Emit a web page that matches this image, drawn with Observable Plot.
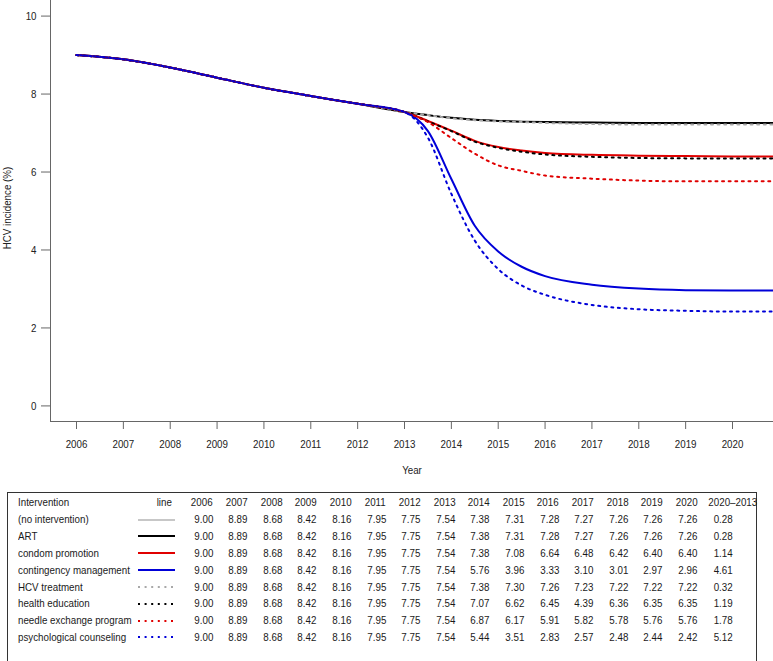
<!DOCTYPE html>
<html><head><meta charset="utf-8">
<script src="https://cdn.jsdelivr.net/npm/d3@7"></script>
<script src="https://cdn.jsdelivr.net/npm/@observablehq/plot@0.6"></script>
<style>
html,body{margin:0;padding:0;background:#fff;overflow:hidden;}
body{width:773px;height:661px;position:relative;font-family:"Liberation Sans",Arial,Helvetica,sans-serif;}
#chart svg{display:block;}
#box{position:absolute;left:7px;top:492px;width:750px;height:200px;border:1px solid #333;box-sizing:border-box;}
#box table{position:absolute;left:10px;top:1.3px;border-collapse:collapse;table-layout:fixed;font-size:11.5px;color:#1a1a1a;}
#box td{padding:0;height:16.85px;line-height:16.85px;white-space:nowrap;overflow:visible;}
#box td.num{text-align:right;}
#box td.last{text-align:center;}
#box td.sw svg{display:block;margin-left:2px;}
#box span.t{display:inline-block;transform:scaleX(0.85);transform-origin:left center;}
#box td.num span.t{transform-origin:right center;}
#box td.last span.t{transform-origin:center center;}
</style>
</head><body>
<div id="chart"></div>
<div id="box"></div>
<script>
// ---------- data ----------
const interventions = ["(no intervention)","ART","condom promotion","contingency management","HCV treatment","health education","needle exchange program","psychological counseling"];

const lineYears = [2006,2007,2008,2009,2010,2011,2012,2013,2013.5,2014,2014.5,2015,2015.5,2016,2017,2018,2019,2020,2021];
const lineNoIntervention = [9.00,8.89,8.68,8.42,8.16,7.95,7.75,7.54,7.46,7.39,7.34,7.31,7.29,7.28,7.27,7.26,7.26,7.26,7.26];
const lineART            = [9.00,8.89,8.68,8.42,8.16,7.95,7.75,7.54,7.46,7.39,7.34,7.31,7.29,7.28,7.27,7.26,7.26,7.26,7.26];
const lineCondom         = [9.00,8.89,8.68,8.42,8.16,7.95,7.75,7.54,7.31,7.06,6.80,6.64,6.55,6.49,6.44,6.42,6.41,6.40,6.40];
const lineContingency    = [9.00,8.89,8.68,8.42,8.16,7.95,7.75,7.54,7.05,5.82,4.62,3.96,3.57,3.33,3.11,3.01,2.97,2.96,2.96];
const lineHCVTreatment   = [9.00,8.89,8.68,8.42,8.16,7.95,7.75,7.54,7.46,7.38,7.33,7.30,7.28,7.26,7.23,7.22,7.22,7.22,7.22];
const lineHealthEdu      = [9.00,8.89,8.68,8.42,8.16,7.95,7.75,7.54,7.30,7.05,6.78,6.62,6.52,6.45,6.39,6.36,6.35,6.35,6.35];
const lineNeedle         = [9.00,8.89,8.68,8.42,8.16,7.95,7.75,7.54,7.28,6.87,6.47,6.17,6.03,5.91,5.83,5.78,5.76,5.76,5.76];
const linePsych          = [9.00,8.89,8.68,8.42,8.16,7.95,7.75,7.54,6.88,5.44,4.24,3.51,3.09,2.85,2.59,2.48,2.44,2.42,2.42];

// table values as printed
const tableYears = [2006,2007,2008,2009,2010,2011,2012,2013,2014,2015,2016,2017,2018,2019,2020];
const tblNoIntervention = [9.00,8.89,8.68,8.42,8.16,7.95,7.75,7.54,7.38,7.31,7.28,7.27,7.26,7.26,7.26];
const tblART            = [9.00,8.89,8.68,8.42,8.16,7.95,7.75,7.54,7.38,7.31,7.28,7.27,7.26,7.26,7.26];
const tblCondom         = [9.00,8.89,8.68,8.42,8.16,7.95,7.75,7.54,7.38,7.08,6.64,6.48,6.42,6.40,6.40];
const tblContingency    = [9.00,8.89,8.68,8.42,8.16,7.95,7.75,7.54,5.76,3.96,3.33,3.10,3.01,2.97,2.96];
const tblHCVTreatment   = [9.00,8.89,8.68,8.42,8.16,7.95,7.75,7.54,7.38,7.30,7.26,7.23,7.22,7.22,7.22];
const tblHealthEdu      = [9.00,8.89,8.68,8.42,8.16,7.95,7.75,7.54,7.07,6.62,6.45,4.39,6.36,6.35,6.35];
const tblNeedle         = [9.00,8.89,8.68,8.42,8.16,7.95,7.75,7.54,6.87,6.17,5.91,5.82,5.78,5.76,5.76];
const tblPsych          = [9.00,8.89,8.68,8.42,8.16,7.95,7.75,7.54,5.44,3.51,2.83,2.57,2.48,2.44,2.42];
const tblDiff = [0.28,0.28,1.14,4.61,0.32,1.19,1.78,5.12];

const xTicks = [2006,2007,2008,2009,2010,2011,2012,2013,2014,2015,2016,2017,2018,2019,2020];
const yTicks = [0,2,4,6,8,10];

// ---------- styles ----------
const styles = [
  {stroke:"#b4b4b4", width:1.6, dash:null},
  {stroke:"#000000", width:2, dash:null},
  {stroke:"#e00000", width:2, dash:null},
  {stroke:"#0000d8", width:2, dash:null},
  {stroke:"#a8a8a8", width:2, dash:"2,4.6"},
  {stroke:"#000000", width:2, dash:"2,4.6"},
  {stroke:"#e00000", width:2, dash:"2,4.6"},
  {stroke:"#0000d8", width:2, dash:"2,4.6"}
];
const lineSeries = [lineNoIntervention,lineART,lineCondom,lineContingency,lineHCVTreatment,lineHealthEdu,lineNeedle,linePsych];
const tblSeries = [tblNoIntervention,tblART,tblCondom,tblContingency,tblHCVTreatment,tblHealthEdu,tblNeedle,tblPsych];

const xDomain = [2005.445, 2020.875];
const yDomain = [-0.4, 10.4];
const axisColor = "#666";
const textColor = "#222";
const squeeze = 0.85;

const marks = [];
lineSeries.forEach((vals, k) => {
  const data = lineYears.map((yr, i) => ({year: yr, value: vals[i]}));
  const st = styles[k];
  const opts = {x:"year", y:"value", stroke: st.stroke, strokeWidth: st.width, curve:"monotone-x", clip:true};
  if (st.dash) { opts.strokeDasharray = st.dash; }
  marks.push(Plot.line(data, opts));
});
marks.push(Plot.ruleX([xDomain[0]], {stroke: axisColor}));
marks.push(Plot.ruleY([yDomain[0]], {stroke: axisColor}));
marks.push(Plot.axisY({ticks: yTicks, tickSize: 9, tickPadding: 5, label: null, stroke: axisColor, fill: textColor, tickFormat: d => String(d)}));
marks.push(Plot.axisX({ticks: xTicks, tickSize: 8, tickPadding: 10, label: null, stroke: axisColor, fill: textColor, tickFormat: d => String(d)}));
marks.push(Plot.text(["Year"], {frameAnchor:"bottom", textAnchor:"middle", dy: 52, fill: textColor}));
marks.push(Plot.text(["HCV incidence (%)"], {frameAnchor:"left", textAnchor:"middle", dx: -43, dy: -3, rotate: -90, fill: textColor}));

const chart = Plot.plot({
  width: 773, height: 485,
  marginLeft: 50, marginRight: 0, marginTop: 0, marginBottom: 64,
  style: {fontSize: "11.5px", fontFamily: '"Liberation Sans", Arial, Helvetica, sans-serif', background: "#fff", overflow: "visible"},
  x: {domain: xDomain},
  y: {domain: yDomain},
  marks
});
// narrow the lettering (the reference uses a condensed face) about each text's anchor point
chart.querySelectorAll("text").forEach(t => {
  const x = parseFloat(t.getAttribute("x")) || 0;
  const y = parseFloat(t.getAttribute("y")) || 0;
  const tr = t.getAttribute("transform") || "";
  t.setAttribute("transform", `${tr} translate(${x},${y}) scale(${squeeze},1) translate(${-x},${-y})`.trim());
});
document.getElementById("chart").appendChild(chart);

// ---------- table ----------
const colW = [118, 42.4].concat(tableYears.map(() => 34.6)).concat([52]);
const tableW = colW.reduce((a, b) => a + b, 0);
const T = s => `<span class="t">${s}</span>`;
let html = `<table style="width:${tableW}px"><colgroup>` + colW.map(w => `<col style="width:${w}px">`).join("") + "</colgroup>";
html += `<tr><td>${T("Intervention")}</td><td class='num' style='padding-right:6px'>${T("line")}</td>` +
  tableYears.map(y => `<td class='num'>${T(y)}</td>`).join("") + `<td class='last' style='padding-left:7px'>${T("2020\u20132013")}</td></tr>`;
interventions.forEach((name, k) => {
  const st = styles[k];
  const sw = `<svg width="37" height="10"><line x1="0" x2="37" y1="5" y2="5" stroke="${st.stroke}" stroke-width="${st.width}"${st.dash ? ` stroke-dasharray="${st.dash}"` : ""}/></svg>`;
  html += `<tr><td>${T(name)}</td><td class='sw'>${sw}</td>` +
    tblSeries[k].map(v => `<td class='num'>${T(v.toFixed(2))}</td>`).join("") +
    `<td class='last'>${T(tblDiff[k].toFixed(2))}</td></tr>`;
});
html += "</table>";
document.getElementById("box").innerHTML = html;
</script>
</body></html>
